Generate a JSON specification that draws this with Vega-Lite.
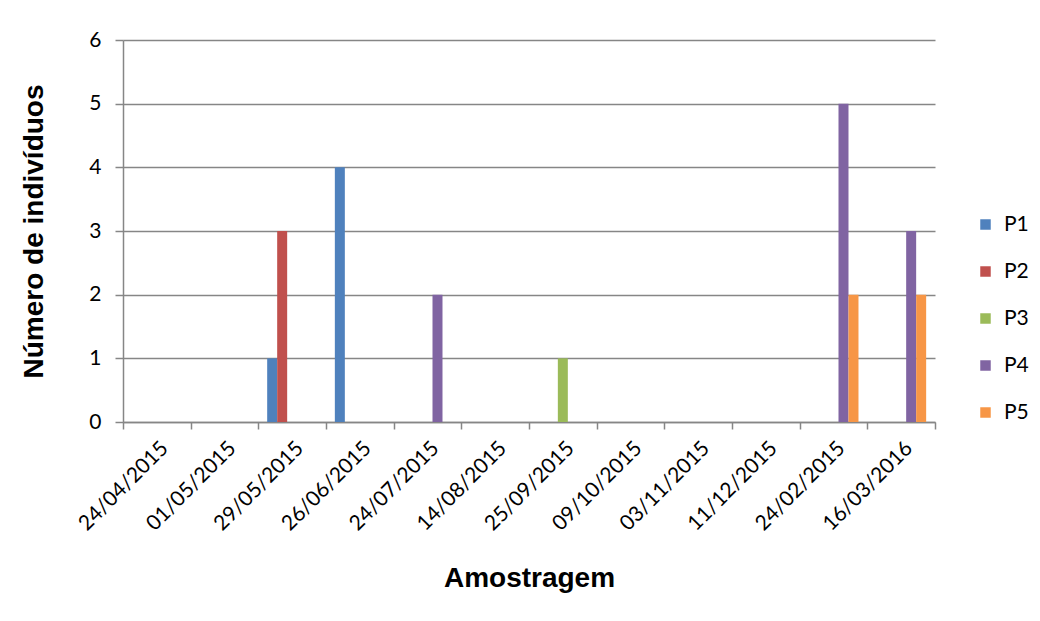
{
  "$schema": "https://vega.github.io/schema/vega-lite/v6.json",
  "autosize": {"type": "none"},
  "width": 812,
  "height": 382,
  "padding": {"left": 123, "top": 40, "right": 105, "bottom": 199},
  "background": "white",
  "data": {"values": [
    {"data": "29/05/2015", "serie": "P1", "n": 1},
    {"data": "29/05/2015", "serie": "P2", "n": 3},
    {"data": "26/06/2015", "serie": "P1", "n": 4},
    {"data": "24/07/2015", "serie": "P4", "n": 2},
    {"data": "25/09/2015", "serie": "P3", "n": 1},
    {"data": "24/02/2015", "serie": "P4", "n": 5},
    {"data": "24/02/2015", "serie": "P5", "n": 2},
    {"data": "16/03/2016", "serie": "P4", "n": 3},
    {"data": "16/03/2016", "serie": "P5", "n": 2}
  ]},
  "mark": {"type": "bar"},
  "encoding": {
    "x": {
      "field": "data", "type": "nominal",
      "scale": {
        "domain": ["24/04/2015", "01/05/2015", "29/05/2015", "26/06/2015", "24/07/2015", "14/08/2015", "25/09/2015", "09/10/2015", "03/11/2015", "11/12/2015", "24/02/2015", "16/03/2016"],
        "paddingInner": 0, "paddingOuter": 0
      },
      "axis": {
        "title": "Amostragem",
        "titleFont": "Liberation Sans", "titleFontSize": 28, "titleFontWeight": "bold", "titleColor": "black",
        "titlePadding": 30,
        "labelFont": "Lato", "labelFontSize": 21, "labelColor": "black",
        "labelAngle": -45, "labelPadding": 8, "labelOffset": 0,
        "tickBand": "extent", "tickSize": 7, "tickColor": "#868686", "tickWidth": 1.5,
        "domainColor": "#868686", "domainWidth": 1.5,
        "grid": false
      }
    },
    "xOffset": {
      "field": "serie", "type": "nominal",
      "scale": {"domain": ["P1", "P2", "P3", "P4", "P5"], "paddingInner": 0, "paddingOuter": 0.885}
    },
    "y": {
      "field": "n", "type": "quantitative",
      "scale": {"domain": [0, 6], "nice": false},
      "axis": {
        "title": "Número de indivíduos",
        "titleFont": "Liberation Sans", "titleFontSize": 28, "titleFontWeight": "bold", "titleColor": "black",
        "titlePadding": 40,
        "labelFont": "Lato", "labelFontSize": 21, "labelColor": "black", "labelPadding": 14,
        "values": [0, 1, 2, 3, 4, 5, 6], "labelOverlap": false,
        "tickSize": 8, "tickColor": "#868686", "tickWidth": 1.5,
        "domainColor": "#868686", "domainWidth": 1.5,
        "grid": true, "gridColor": "#868686", "gridWidth": 1.5
      }
    },
    "color": {
      "field": "serie", "type": "nominal",
      "scale": {"domain": ["P1", "P2", "P3", "P4", "P5"], "range": ["#4F81BD", "#C0504D", "#9BBB59", "#8064A2", "#F79646"]},
      "legend": {
        "title": null, "orient": "none", "legendX": 852, "legendY": 174,
        "symbolType": "square", "symbolSize": 110, "symbolStrokeWidth": 0,
        "labelFont": "Lato", "labelFontSize": 21, "labelColor": "black",
        "rowPadding": 25, "labelOffset": 8
      }
    }
  },
  "config": {"view": {"stroke": null}}
}
